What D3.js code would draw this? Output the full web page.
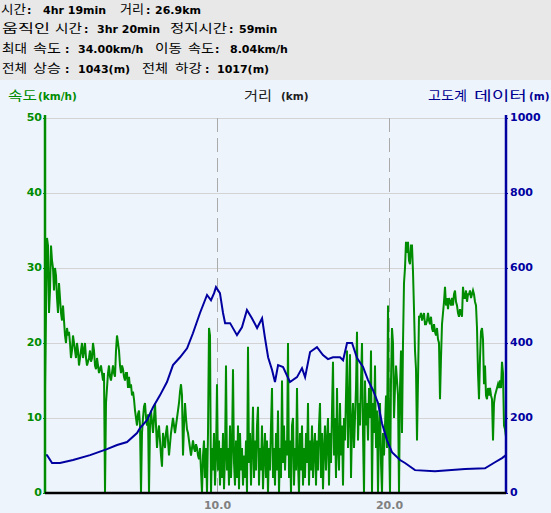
<!DOCTYPE html>
<html><head><meta charset="utf-8">
<script src="https://cdn.jsdelivr.net/npm/d3@7"></script>
<style>
html,body{margin:0;padding:0;background:#eef4fc;}
svg{display:block;}
</style></head>
<body>
<svg id="c" width="551" height="513"></svg>
<script>
// ---------- data ----------
const totalKm = 26.8;
const speedTicks = [0, 10, 20, 30, 40, 50];
const elevTicks = [0, 200, 400, 600, 800, 1000];
const distTicks = [10, 20];
const distTickLabels = ["10.0", "20.0"];

// speed samples (km/h), evenly spaced along the distance
const speed = [
 14,24,34,33,24,27,33,31,30,27,30,29,26,24,28,26,24,23,25,23,
 21,20,22,21,21.5,20,18,19,21,20,19,18,20,19,17,18,19,20,18,19,
 20,18,17,17.5,18,19,17.5,18,20,19,17,16.5,18,17,16,16.5,17,16,15,16,
 0,12,14,16,17,15.5,15,16,17,16,15.5,19,21,20,19,17,16,17,16.5,15.5,
 15,16,16,14,15.5,14,14.5,13,13.5,12.5,11,10,9,10.5,11,9,0,8,10,11.5,
 12,10,9,10.5,0,9,11,9.5,8,10,12,9,6,8,9,7,5,3.5,8,7,
 6,8,9,7,5,6.5,8,9,10,9,8,9,10,11,12,13.5,14.5,13,5,9,
 12,10,8.5,8,7,6,5,6,7,6,5.5,6.5,6,5,4.5,6,
 3,0,5,7,2,6,0,8,22,21,0,6,3,8,1,5,14.5,3,7,1,
 6,2,8,0.5,5,17,3,6,1,9,2,6,16.5,4,1,7,2,9,0.5,8,
 3,6,1,5,2,7,0,19.5,4,8,1,6,11.5,2,7,3,9,11.5,1,6,
 3,9,0.5,5,8,2,7,0,6,3,9,14,2,6,1,8,3,11,0,6,
 2,15,4,9,3,7,5,20,2,7,0,9,10,1,6,3,14,4,0,8,
 3,9,1,6,2,8,4,12,1,7,3,9,2,6,8,1,7,3,9,12,
 2,8,0.5,6,9,3,7,10,1,8,4,11,17.5,5,10,2,14,6,3,12,
 5,9,1,10,7,13,19,6,11,18.5,2,9,12,6,10,14,21.5,7,12,9,
 15,20,8,0,15,9,12,7,14,10,19,0,12,8,17,6,11,0,9,12,
 4,0,8,5,9,13,6,25,8,0,15,22,20,10,14,
 17,15,13,0,14,19,8,20,28,30,33.5,32,33.5,31,30.5,33,33,29.5,24.5,19,
 16.5,7,15,23.5,23.5,24,23,23.5,24,22.5,22.5,23,24,23,22.5,23.5,22,21.5,22.5,21.5,
 21,22,20.5,20,12.5,18,22.5,24,25.5,27.5,25,26,24.5,26,25.5,25,26,25,26.5,27,
 25.5,25,24,23.5,24.5,24,23.5,27.5,26,26,27,25.5,26.5,26.5,27,26,26.5,27,26.5,25.5,
 25,22,16,12.5,18,21.5,22,20.5,14.5,17,13,12.5,14,13,14,13,12.5,7,12,13,
 13.5,14,14.5,14,15,14,17.5,16,9,8.5,7.5
];

// elevation profile
const elevKm = [0,0.12,0.41,0.87,1.63,2.62,3.60,4.19,4.77,5.35,5.52,5.93,6.28,6.69,7.09,
 7.44,7.85,8.26,8.60,9.01,9.42,9.65,9.83,9.94,10.17,10.35,10.47,10.76,11.16,11.45,
 11.74,12.03,12.33,12.62,12.79,12.97,13.20,13.37,13.55,13.84,14.24,14.65,14.94,15.12,15.41,
 15.81,16.16,16.45,16.74,17.15,17.33,17.56,17.85,18.14,18.49,18.78,19.07,19.36,19.59,19.88,
 20.17,20.64,20.93,21.51,22.67,24.42,25.58,26.16,26.57,26.8];
const elevM = [101,101,80,80,88,101,117,128,136,160,173,194,229,261,296,
 341,362,386,426,480,528,514,533,549,533,480,453,453,421,442,
 488,466,440,466,413,362,328,296,341,336,296,309,333,309,376,
 389,368,357,362,362,354,400,400,360,336,301,274,240,186,141,
 109,88,80,61,58,64,66,82,93,101];

// header summary
const headerLabels = [
  ["시간"], ["거리"],
  ["움직인", "시간"], ["정지시간"],
  ["최대", "속도"], ["이동", "속도"],
  ["전체", "상승"], ["전체", "하강"]
];
const headerValues = ["4hr 19min", "26.9km", "3hr 20min", "59min",
  "34.00km/h", "8.04km/h", "1043(m)", "1017(m)"];

// ---------- layout ----------
const L = 45, R = 506, T = 118, B = 493;
const svg = d3.select("#c");
const green = "#008c00", blue = "#0000a0";
const kr = "'Noto Sans CJK KR', sans-serif";
const bf = "'DejaVu Sans', Verdana, sans-serif";

svg.append("rect").attr("x",0).attr("y",0).attr("width",551).attr("height",513).attr("fill","#eef4fc");
svg.append("rect").attr("x",0).attr("y",0).attr("width",551).attr("height",80).attr("fill","#e8e8e8");

const x = d3.scaleLinear().domain([0, totalKm]).range([L, R]);
const yS = d3.scaleLinear().domain([0, 50]).range([B, T]);
const yE = d3.scaleLinear().domain([0, 1000]).range([B, T]);

// header text layout (word x, word width), colon x, value x
const hdrLayout = [
  {y: 13.5, words: [[1, 25]],            colon: 27,  val: 43},
  {y: 13.5, words: [[120, 24]],          colon: 146, val: 155},
  {y: 33,   words: [[2, 48], [55, 27]],  colon: 84,  val: 97},
  {y: 33,   words: [[170, 57]],          colon: 229, val: 239},
  {y: 53,   words: [[2, 25], [33, 28]],  colon: 65,  val: 78},
  {y: 53,   words: [[155, 27], [188, 26]], colon: 215, val: 230},
  {y: 72.5, words: [[2, 25], [33, 28]],  colon: 65,  val: 78},
  {y: 72.5, words: [[142, 26], [175, 27]], colon: 205, val: 217}
];
hdrLayout.forEach((h, i) => {
  headerLabels[i].forEach((w, j) => {
    svg.append("text").attr("x", h.words[j][0]).attr("y", h.y)
      .attr("textLength", h.words[j][1]).attr("lengthAdjust", "spacingAndGlyphs")
      .attr("font-family", kr).attr("font-size", 12.5).attr("fill", "#000").text(w);
  });
  svg.append("text").attr("x", h.colon).attr("y", h.y).attr("font-family", bf)
    .attr("font-weight", "bold").attr("font-size", 11).attr("fill", "#000").text(":");
  svg.append("text").attr("x", h.val).attr("y", h.y).attr("font-family", bf)
    .attr("font-weight", "bold").attr("font-size", 11).attr("fill", "#000").text(headerValues[i]);
});

// gridlines
const grid = svg.append("g");
grid.selectAll("line.h").data(speedTicks.filter(d => d > 0)).enter().append("line")
  .attr("x1", L).attr("x2", R).attr("y1", d => yS(d)).attr("y2", d => yS(d))
  .attr("stroke", "#d3d3d3").attr("stroke-width", 1).attr("shape-rendering","crispEdges");
grid.selectAll("line.v").data(distTicks).enter().append("line")
  .attr("x1", d => x(d)).attr("x2", d => x(d)).attr("y1", T).attr("y2", B)
  .attr("stroke", "#aaaaaa").attr("stroke-width", 1).attr("stroke-dasharray", "14,6")
  .attr("shape-rendering","crispEdges");

// speed line
const step = totalKm / (speed.length - 1);
const sLine = d3.line().x((d, i) => x(i * step)).y(d => yS(d));
svg.append("path").datum(speed).attr("d", sLine)
  .attr("fill", "none").attr("stroke", green).attr("stroke-width", 2).attr("stroke-linejoin","miter");

// elevation line
const eLine = d3.line().x((d, i) => x(elevKm[i])).y(d => yE(d));
svg.append("path").datum(elevM).attr("d", eLine)
  .attr("fill", "none").attr("stroke", blue).attr("stroke-width", 2);

// axes
const axL = svg.append("g").attr("transform", `translate(${L},0)`)
  .call(d3.axisLeft(yS).tickValues(speedTicks).tickSize(2).tickFormat(d3.format("d")));
axL.select(".domain").attr("stroke", green).attr("stroke-width", 2.5).attr("d", `M0,${T-3}V${B}`);
axL.selectAll(".tick line").attr("stroke", green).attr("stroke-width", 1);
axL.selectAll(".tick text").attr("fill", green).attr("font-family", bf).attr("font-weight", "bold")
  .attr("font-size", 11).attr("x", -3).attr("dy", "0.25em");

const axR = svg.append("g").attr("transform", `translate(${R},0)`)
  .call(d3.axisRight(yE).tickValues(elevTicks).tickSize(2).tickFormat(d3.format("d")));
axR.select(".domain").attr("stroke", blue).attr("stroke-width", 2.5).attr("d", `M0,${T-3}V${B}`);
axR.selectAll(".tick line").attr("stroke", blue).attr("stroke-width", 1);
axR.selectAll(".tick text").attr("fill", blue).attr("font-family", bf).attr("font-weight", "bold")
  .attr("font-size", 11).attr("x", 4).attr("dy", "0.25em");

const axB = svg.append("g").attr("transform", `translate(0,${B})`)
  .call(d3.axisBottom(x).tickValues(distTicks).tickSize(0).tickFormat((d, i) => distTickLabels[i]));
axB.select(".domain").attr("stroke", "#000").attr("stroke-width", 2.5).attr("d", `M${L},0H${R}`);
axB.selectAll(".tick text").attr("fill", "#808080").attr("font-family", bf).attr("font-weight", "bold")
  .attr("font-size", 11).attr("y", 15.5).attr("dy", 0);

// axis titles
svg.append("text").attr("x", 8).attr("y", 100).attr("fill", green).attr("font-family", kr)
  .attr("font-size", 13).attr("textLength", 29).attr("lengthAdjust", "spacingAndGlyphs").text("속도");
svg.append("text").attr("x", 38).attr("y", 100).attr("fill", green).attr("font-family", bf)
  .attr("font-weight", "bold").attr("font-size", 10.5).text("(km/h)");

svg.append("text").attr("x", 244).attr("y", 100).attr("fill", "#202020").attr("font-family", kr)
  .attr("font-size", 13).attr("textLength", 28).attr("lengthAdjust", "spacingAndGlyphs").text("거리");
svg.append("text").attr("x", 281).attr("y", 100).attr("fill", "#202020").attr("font-family", bf)
  .attr("font-weight", "bold").attr("font-size", 10.5).text("(km)");

svg.append("text").attr("x", 428).attr("y", 100).attr("fill", "#000090").attr("font-family", kr)
  .attr("font-size", 13).attr("textLength", 39).attr("lengthAdjust", "spacingAndGlyphs").text("고도계");
svg.append("text").attr("x", 474).attr("y", 100).attr("fill", "#000090").attr("font-family", kr)
  .attr("font-size", 13).attr("textLength", 53).attr("lengthAdjust", "spacingAndGlyphs").text("데이터");
svg.append("text").attr("x", 529).attr("y", 100).attr("fill", "#000090").attr("font-family", bf)
  .attr("font-weight", "bold").attr("font-size", 10.5).text("(m)");
</script>
</body></html>
